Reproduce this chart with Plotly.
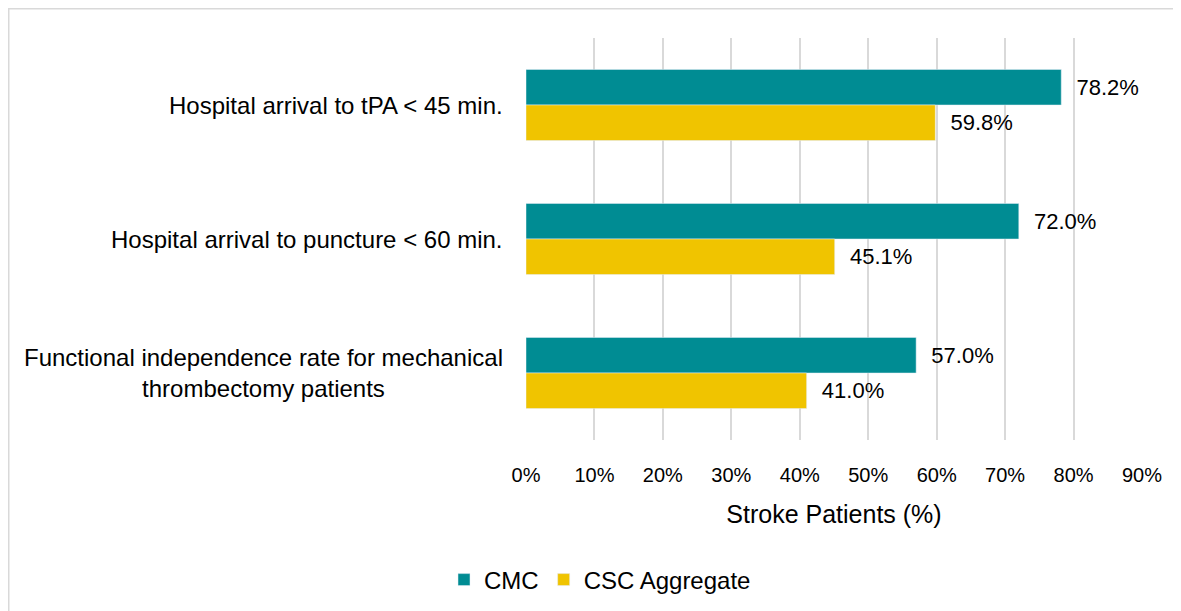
import plotly.graph_objects as go

categories = ["Hospital arrival to tPA < 45 min.",
              "Hospital arrival to puncture < 60 min.",
              "Functional independence rate for mechanical<br>thrombectomy patients"]
cmc = [78.2, 72.0, 57.0]
csc = [59.8, 45.1, 41.0]
tick_vals = [0, 10, 20, 30, 40, 50, 60, 70, 80, 90]
tick_text = [f"{v}%" for v in tick_vals]

# figure is placed by the page with an 8px body margin
W, H = 1173, 603
L, R, T, B = 518, 39, 30, 171
pw, ph = W - L - R, H - T - B

def px_x(p):
    return (p - L) / pw

def px_y(p):
    return (H - B - p) / ph

teal = "#008C93"
gold = "#F0C400"
base = "Liberation Sans, Arial, sans-serif"
cat_font = dict(family=base, size=24, color="#000000")
lab_font = dict(family=base, size=22, color="#000000")

fig = go.Figure()
fig.add_trace(go.Bar(y=categories, x=cmc, name="CMC", orientation="h",
                     marker_color=teal, text=[f"  {v:.1f}%" for v in cmc],
                     textposition="outside", textfont=lab_font, cliponaxis=False))
fig.add_trace(go.Bar(y=categories, x=csc, name="CSC Aggregate", orientation="h",
                     marker_color=gold, text=[f"  {v:.1f}%" for v in csc],
                     textposition="outside", textfont=lab_font, cliponaxis=False))

annotations = []
for c in categories:
    annotations.append(dict(x=px_x(497), y=c, xref="paper", yref="y", text=c,
                            showarrow=False, xanchor="right", align="center",
                            font=cat_font))

fig.update_layout(
    width=W, height=H,
    margin=dict(l=L, r=R, t=T, b=B, autoexpand=False),
    paper_bgcolor="white", plot_bgcolor="white",
    barmode="group", bargap=0.47, bargroupgap=0,
    showlegend=True,
    legend=dict(orientation="h", x=px_x(592), xanchor="center", y=px_y(572), yanchor="middle",
                font=cat_font, traceorder="normal", itemwidth=30),
    xaxis=dict(range=[0, 90], tickvals=tick_vals, ticktext=tick_text,
               showgrid=True, gridcolor="#D9D9D9", gridwidth=1.5,
               zeroline=False, showline=False, ticks="", ticklabelstandoff=21,
               tickfont=dict(family=base, size=20, color="#000000"),
               title=dict(text="Stroke Patients (%)", font=dict(family=base, size=25, color="#000000"),
                          standoff=20)),
    yaxis=dict(autorange="reversed", showticklabels=False, showgrid=False, zeroline=False,
               showline=False, ticks=""),
    annotations=annotations,
    shapes=[dict(type="rect", xref="paper", yref="paper",
                 x0=px_x(0.75), x1=px_x(W + 10), y0=px_y(H + 10), y1=px_y(0.75),
                 line=dict(color="#D9D9D9", width=1.5), fillcolor="rgba(0,0,0,0)", layer="below")],
)

fig.write_html("out.html")
